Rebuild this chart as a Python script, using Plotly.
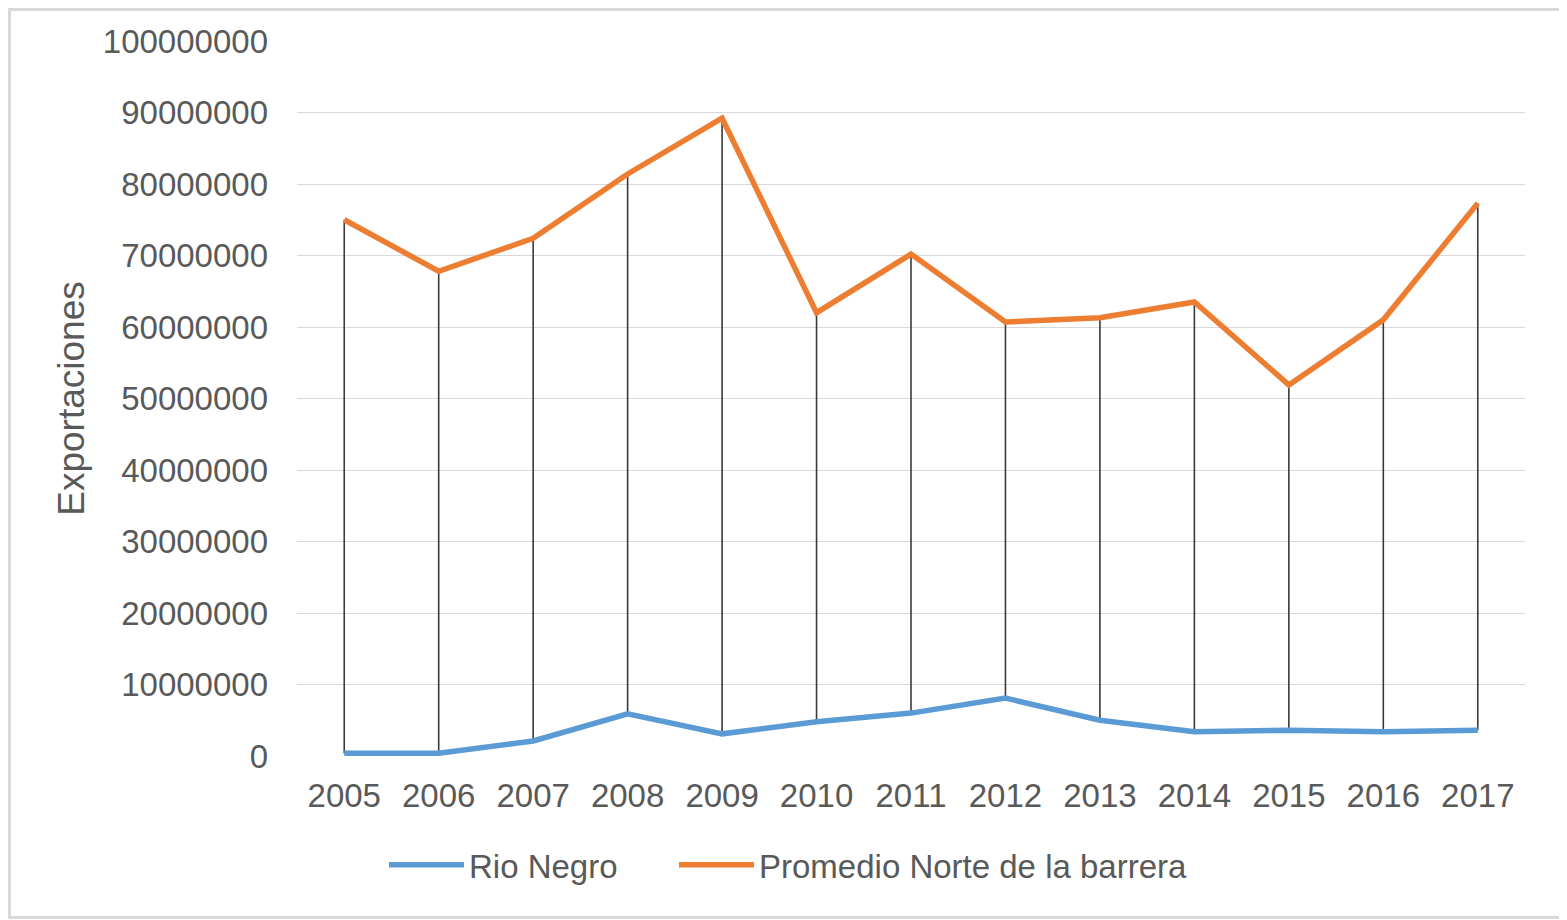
import plotly.graph_objects as go

# Datos
anios = ['2005', '2006', '2007', '2008', '2009', '2010', '2011',
         '2012', '2013', '2014', '2015', '2016', '2017']
rio_negro = [400000, 400000, 2100000, 5900000, 3100000, 4800000, 6000000,
             8100000, 5000000, 3400000, 3600000, 3400000, 3600000]
promedio_norte = [75000000, 67800000, 72400000, 81400000, 89200000, 62000000, 70200000,
                  60700000, 61300000, 63500000, 51900000, 61000000, 77300000]

AZUL = '#5B9BD5'
NARANJA = '#ED7D31'
GRIS = '#595959'
FUENTE = 'Liberation Sans, Arial, sans-serif'

# la pagina deja 8px de margen, el grafico se dibuja un poco mas chico
W, H = 1559, 912
ML, MT, PW, PH = 289, 33, 1228, 715

#----------------------------------------------------------------------
# lineas alto-bajo (de una serie a la otra)
#----------------------------------------------------------------------
hx, hy = [], []
for a, r, p in zip(anios, rio_negro, promedio_norte):
    hx += [a, a, None]
    hy += [r, p, None]

fig = go.Figure()

fig.add_trace(go.Scatter(x=hx, y=hy, mode='lines',
                         line=dict(color='#3A3A3A', width=1.6),
                         showlegend=False, hoverinfo='skip'))

fig.add_trace(go.Scatter(x=anios, y=rio_negro, mode='lines', name='Rio Negro',
                         line=dict(color=AZUL, width=5.5), legend='legend'))

fig.add_trace(go.Scatter(x=anios, y=promedio_norte, mode='lines',
                         name='Promedio Norte de la barrera',
                         line=dict(color=NARANJA, width=5.5), legend='legend2'))

ley = dict(orientation='h', xanchor='left', y=-0.152, yanchor='middle',
           itemwidth=75, font=dict(size=33, color=GRIS))

fig.update_layout(
    width=W, height=H,
    paper_bgcolor='white', plot_bgcolor='white',
    margin=dict(l=ML, r=W - ML - PW, t=MT, b=H - MT - PH, autoexpand=False),
    font=dict(family=FUENTE, size=33, color=GRIS),
    legend=dict(ley, x=(376 - ML) / PW),
    legend2=dict(ley, x=(666 - ML) / PW),
    shapes=[dict(type='rect', xref='paper', yref='paper',
                 x0=-(ML - 1.5) / PW, x1=1 + (W - ML - PW - 2.5) / PW,
                 y0=-(H - MT - PH - 2.5) / PH, y1=1 + (MT - 1.5) / PH,
                 line=dict(color='#D9D9D9', width=3))],
)

fig.update_xaxes(type='category', range=[-0.5, 12.5], showgrid=False,
                 showline=False, ticks='', tickangle=0, automargin=False,
                 ticklabelstandoff=17, tickfont=dict(size=33, color=GRIS))

fig.update_yaxes(range=[0, 100000000], dtick=10000000, tickformat='d',
                 showgrid=True, gridcolor='#D9D9D9', gridwidth=1.3,
                 zeroline=False, ticks='', ticklabelstandoff=28, automargin=False,
                 tickfont=dict(size=33, color=GRIS),
                 title=dict(text='Exportaciones', font=dict(size=37, color=GRIS),
                            standoff=6))

fig.write_html("out.html")
